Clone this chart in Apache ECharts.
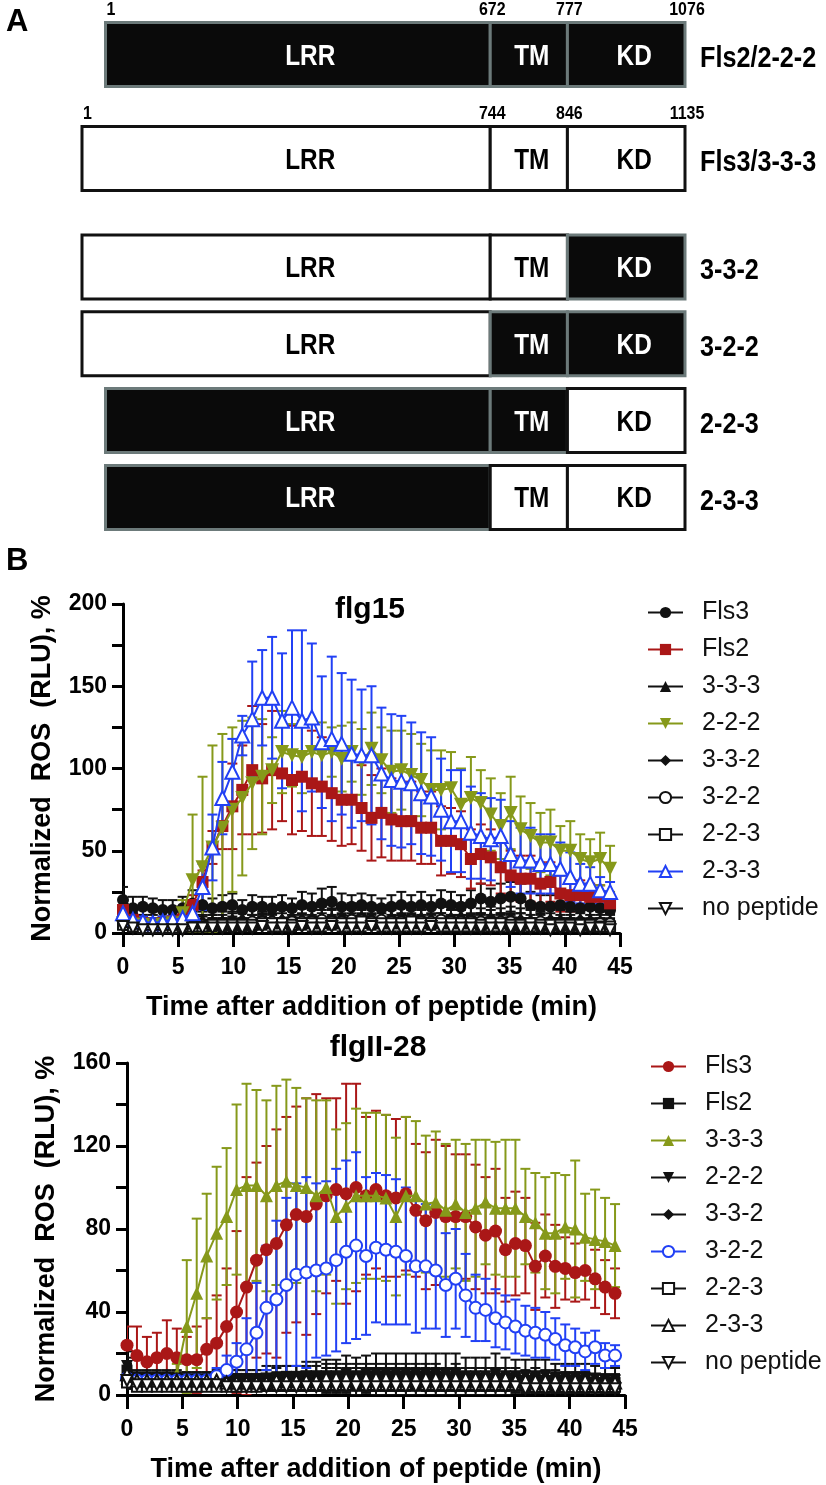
<!DOCTYPE html>
<html><head><meta charset="utf-8">
<script src="https://cdn.jsdelivr.net/npm/echarts@6/dist/echarts.min.js"></script>
<style>html,body{margin:0;padding:0;background:#fff}#c{width:826px;height:1485px}</style>
</head><body><div id="c"></div>
<script>
// ================= Panel A data =================
const topConstructs = ['Fls2/2-2-2', 'Fls3/3-3-3'];
const chimeraConstructs = ['3-3-2', '3-2-2', '2-2-3', '2-3-3'];
const domainNames = ['LRR', 'TM', 'KD'];
// origin of each domain (LRR, TM, KD): 2 = Fls2, 3 = Fls3
const topOrigins = [[2, 2, 2], [3, 3, 3]];
const chimeraOrigins = [[3, 3, 2], [3, 2, 2], [2, 2, 3], [2, 3, 3]];
// schematic domain lengths (diagram units, not to scale)
const lrrLenFls2 = 63.8, lrrLenFls3 = 67.7, tmLen = 12.8, kdLen = 19.5;
const fls2Boundaries = ['1', '672', '777', '1076'];
const fls3Boundaries = ['1', '744', '846', '1135'];

// ================= Panel B data =================
const timeMin = [0,0.9,1.8,2.7,3.6,4.5,5.4,6.3,7.2,8.1,9,9.9,10.8,11.7,12.6,13.5,14.4,15.3,16.2,17.1,18,18.9,19.8,20.7,21.6,22.5,23.4,24.3,25.2,26.1,27,27.9,28.8,29.7,30.6,31.5,32.4,33.3,34.2,35.1,36,36.9,37.8,38.7,39.6,40.5,41.4,42.3,43.2,44.1];
const legendNames = ['Fls3', 'Fls2', '3-3-3', '2-2-2', '3-3-2', '3-2-2', '2-2-3', '2-3-3', 'no peptide'];

// flg15 (mean, SD)
const flg15_Fls3 = [20,15,16,15,14,14,15,18,17,15,16,17,14,16,16,15,16,15,17,16,18,19,16,16,17,16,15,16,17,16,17,16,18,17,16,18,21,19,21,22,21,17,16,16,17,16,15,16,15,14];
const flg15_Fls3_sd = [8,7,6,6,6,6,7,8,7,6,7,7,6,7,6,7,7,6,8,8,9,9,8,7,7,7,6,7,8,7,8,7,8,8,7,8,9,8,9,9,9,8,7,7,8,7,7,7,6,6];
const flg15_Fls2 = [14,8,6,5,6,7,8,17,31,52,65,77,87,99,94,99,97,93,95,91,89,85,81,81,76,70,73,69,68,68,64,64,56,56,54,45,48,46,40,35,33,33,30,31,24,23,23,22,22,18];
const flg15_Fls2_sd = [6,4,3,3,3,3,4,6,7,10,14,26,27,39,33,36,29,33,33,32,30,29,28,27,26,26,27,25,24,24,22,22,21,20,20,18,18,17,16,15,14,14,13,12,11,10,9,8,7,6];
const flg15_333 = [10,8,7,7,6,6,7,8,8,7,8,8,9,9,8,9,9,10,9,10,10,9,10,11,10,10,9,10,11,10,10,9,10,10,11,10,9,10,9,10,9,9,8,9,9,8,8,9,8,8];
const flg15_333_sd = [5,4,4,4,4,4,4,5,5,4,5,5,5,5,5,6,5,6,6,6,6,6,6,7,6,6,6,6,7,6,6,6,6,6,7,6,6,6,6,6,6,5,5,5,5,5,5,5,5,4];
const flg15_222 = [6,5,5,4,5,6,12,32,40,52,64,75,82,91,95,99,110,108,107,110,108,110,106,110,104,112,105,98,99,96,93,87,87,88,78,82,79,72,65,73,63,59,55,55,50,50,45,43,45,39];
const flg15_222_sd = [3,3,3,3,3,4,8,40,55,62,57,50,47,40,35,20,25,19,22,18,20,15,20,18,20,22,20,25,24,25,22,24,24,22,22,25,20,22,20,22,20,20,18,20,15,18,15,14,16,14];
const flg15_332 = [8,6,5,5,5,5,6,6,7,7,7,8,8,7,8,8,8,9,8,9,9,9,8,9,9,8,9,9,8,9,9,8,8,9,9,8,8,9,8,8,8,7,8,8,7,7,8,7,7,7];
const flg15_332_sd = [4,3,3,3,3,3,3,3,4,4,4,4,4,4,4,4,4,5,4,5,5,5,4,5,5,4,5,5,4,5,5,4,4,5,5,4,4,5,4,4,4,4,4,4,4,4,4,4,4,4];
const flg15_322 = [6,5,4,4,4,4,5,5,5,6,6,6,6,7,7,7,6,7,7,7,8,7,7,8,8,7,8,7,7,8,7,7,8,7,7,7,7,6,7,7,6,6,7,6,6,6,6,5,6,6];
const flg15_322_sd = [3,3,3,3,3,3,3,3,3,3,3,3,3,4,4,4,3,4,4,4,4,4,4,4,4,4,4,4,4,4,4,4,4,4,4,4,4,3,4,4,3,3,4,3,3,3,3,3,3,3];
const flg15_223 = [5,4,3,3,3,3,4,4,4,5,5,5,5,5,6,6,6,5,6,6,6,6,6,6,7,6,6,6,6,7,6,6,6,6,6,6,5,6,6,5,5,6,5,5,5,5,5,5,4,4];
const flg15_223_sd = [3,2,2,2,2,2,2,2,2,3,3,3,3,3,3,3,3,3,3,3,3,3,3,3,4,3,3,3,3,4,3,3,3,3,3,3,3,3,3,3,3,3,3,3,3,3,3,3,2,2];
const flg15_233 = [12,8,7,6,7,8,9,12,28,52,82,98,120,130,143,143,129,137,129,131,116,118,115,109,108,108,97,93,92,91,85,83,75,68,68,61,59,57,59,48,44,44,42,42,39,34,30,30,26,25];
const flg15_233_sd = [4,3,3,3,3,3,4,5,14,20,22,20,12,35,29,37,41,47,55,45,40,50,43,45,40,42,40,40,40,37,37,36,31,31,31,28,26,25,22,20,20,20,18,18,16,15,12,10,8,6];
const flg15_nopep = [4,3,2,2,2,2,2,3,3,3,3,3,3,3,4,3,3,3,4,3,3,4,3,3,3,4,3,3,3,3,3,4,3,3,3,3,3,3,3,3,3,3,3,2,3,3,2,3,3,2];
const flg15_nopep_sd = [2,2,1,1,1,1,1,2,2,2,2,2,2,2,2,2,2,2,2,2,2,2,2,2,2,2,2,2,2,2,2,2,2,2,2,2,2,2,2,2,2,2,2,1,2,2,1,2,2,1];

// flgII-28 (mean, SD)
const flgII_Fls3 = [24,19,16,18,20,18,17,17,22,25,33,40,52,65,70,73,82,87,86,92,96,99,97,100,96,99,96,95,97,89,84,88,86,86,86,81,77,79,70,73,72,62,67,62,61,59,60,56,52,49];
const flgII_Fls3_sd = [9,14,12,12,16,14,11,16,15,23,28,39,53,47,50,55,52,52,57,53,47,44,53,50,38,38,39,38,37,32,33,35,34,30,30,30,28,30,25,25,23,21,20,20,15,14,14,14,13,12];
const flgII_Fls2 = [12,7,7,7,7,7,7,7,7,8,8,8,8,8,8,8,9,9,9,9,9,9,9,9,9,9,9,9,9,9,9,9,8,9,8,8,8,8,8,8,7,8,7,7,7,7,7,6,6,6];
const flgII_Fls2_sd = [6,4,4,4,4,4,4,4,4,4,4,4,4,4,4,5,5,5,5,5,6,6,6,6,6,6,6,6,6,6,6,6,5,6,5,5,5,5,5,5,5,5,5,5,4,4,4,4,4,4];
const flgII_333 = [8,7,7,7,7,10,33,49,67,78,86,99,101,101,96,101,103,101,100,96,100,86,91,96,96,96,95,86,96,96,92,93,89,92,88,90,93,90,90,90,86,83,78,78,81,80,76,75,74,72];
const flgII_333_sd = [3,3,3,3,3,5,32,36,30,32,33,41,49,46,46,48,49,47,43,46,42,42,40,42,40,40,40,38,38,36,33,34,32,31,33,33,30,32,33,33,23,24,27,29,25,33,21,24,21,20];
const flgII_222 = [14,8,8,8,8,8,7,7,7,7,7,7,7,7,8,8,8,8,9,9,9,9,10,9,10,10,10,10,10,10,10,10,10,10,9,9,9,10,9,9,9,9,9,8,8,8,8,8,7,7];
const flgII_222_sd = [7,4,4,4,4,4,4,4,4,4,4,5,5,5,6,6,6,6,7,7,8,8,9,9,9,10,10,10,10,10,10,10,10,10,9,9,9,10,9,8,8,8,8,7,7,7,7,6,6,6];
const flgII_332 = [9,6,6,6,6,6,6,6,6,6,6,6,6,6,6,6,6,6,6,7,7,7,7,7,7,7,7,7,7,7,7,7,7,7,7,7,6,7,6,6,6,6,6,6,6,6,5,5,5,5];
const flgII_332_sd = [5,3,3,3,3,3,3,3,3,3,3,3,3,3,3,3,3,3,3,4,4,4,4,4,4,4,4,4,4,4,4,4,4,4,4,4,3,4,3,3,3,3,3,3,3,3,3,3,3,3];
const flgII_322 = [8,7,7,7,7,7,7,7,7,9,12,16,22,30,42,46,53,58,59,60,61,65,69,72,67,71,70,69,67,62,62,60,53,56,48,42,41,37,35,33,31,30,29,27,24,23,21,23,19,19];
const flgII_322_sd = [3,3,3,3,3,3,3,3,3,4,7,9,15,24,30,38,42,44,46,42,42,44,44,45,38,36,36,35,33,32,30,28,25,24,20,16,15,14,13,13,12,12,11,10,10,9,9,8,6,5];
const flgII_223 = [6,4,4,4,4,4,4,4,4,4,4,4,4,4,5,5,5,5,5,5,5,5,5,6,5,5,5,5,5,6,5,5,5,5,5,5,5,5,5,5,5,4,4,5,4,4,4,4,4,4];
const flgII_223_sd = [3,2,2,2,2,2,2,2,2,2,2,2,2,2,3,3,3,3,3,3,3,3,3,3,3,3,3,3,3,3,3,3,3,3,3,3,3,3,3,3,3,2,2,3,2,2,2,2,2,2];
const flgII_233 = [10,7,7,7,7,7,7,7,7,7,6,6,6,6,6,7,7,7,7,7,8,8,8,8,8,8,8,8,8,8,8,8,8,8,8,8,8,8,8,7,7,7,7,7,7,7,7,6,6,6];
const flgII_233_sd = [5,3,3,3,3,3,3,3,3,3,3,3,3,3,3,4,4,4,4,4,5,5,5,5,5,5,5,5,5,5,5,5,5,5,5,5,5,5,5,4,4,4,4,4,4,4,4,4,4,4];
const flgII_nopep = [7,5,5,5,5,5,5,5,5,5,4,4,4,4,4,4,4,4,4,4,4,4,4,4,4,4,4,4,4,4,4,4,4,4,4,4,4,4,4,4,3,3,3,3,3,3,3,3,3,3];
const flgII_nopep_sd = [4,2,2,2,2,2,2,2,2,2,2,2,2,2,2,2,2,2,2,2,2,2,2,2,2,2,2,2,2,2,2,2,2,2,2,2,2,2,2,2,2,2,2,2,2,2,2,2,2,2];

// ================= styling =================
const BLACK = '#111111', RED = '#aa1717', GREEN = '#86991a', BLUE = '#2140f5';
const SANS = '"Liberation Sans", Arial, Helvetica, sans-serif';
const NARROW_SCALE = 0.84;

const flg15Defs = [
  {v: flg15_Fls3, sd: flg15_Fls3_sd, color: BLACK, symbol: 'circle', size: 12},
  {v: flg15_Fls2, sd: flg15_Fls2_sd, color: RED, symbol: 'rect', size: 12},
  {v: flg15_333, sd: flg15_333_sd, color: BLACK, symbol: 'triangle', size: 12},
  {v: flg15_222, sd: flg15_222_sd, color: GREEN, symbol: 'triangle', rot: 180, size: 14},
  {v: flg15_332, sd: flg15_332_sd, color: BLACK, symbol: 'diamond', size: 12},
  {v: flg15_322, sd: flg15_322_sd, color: BLACK, symbol: 'emptyCircle', size: 10},
  {v: flg15_223, sd: flg15_223_sd, color: BLACK, symbol: 'emptyRect', size: 10},
  {v: flg15_233, sd: flg15_233_sd, color: BLUE, symbol: 'emptyTriangle', size: 14},
  {v: flg15_nopep, sd: flg15_nopep_sd, color: BLACK, symbol: 'emptyTriangle', rot: 180, size: 11}
];
const flgIIDefs = [
  {v: flgII_Fls3, sd: flgII_Fls3_sd, color: RED, symbol: 'circle', size: 13},
  {v: flgII_Fls2, sd: flgII_Fls2_sd, color: BLACK, symbol: 'rect', size: 11},
  {v: flgII_333, sd: flgII_333_sd, color: GREEN, symbol: 'triangle', size: 13},
  {v: flgII_222, sd: flgII_222_sd, color: BLACK, symbol: 'triangle', rot: 180, size: 12},
  {v: flgII_332, sd: flgII_332_sd, color: BLACK, symbol: 'diamond', size: 12},
  {v: flgII_322, sd: flgII_322_sd, color: BLUE, symbol: 'emptyCircle', size: 12},
  {v: flgII_223, sd: flgII_223_sd, color: BLACK, symbol: 'emptyRect', size: 10},
  {v: flgII_233, sd: flgII_233_sd, color: BLACK, symbol: 'emptyTriangle', size: 12},
  {v: flgII_nopep, sd: flgII_nopep_sd, color: BLACK, symbol: 'emptyTriangle', rot: 180, size: 11}
];

// ================= Panel A builders =================
function buildSegments(origins) {
  const out = [];
  origins.forEach((o, r) => {
    const lens = [o[0] === 2 ? lrrLenFls2 : lrrLenFls3, tmLen, kdLen];
    let s = 100 - lens.reduce((a, b) => a + b, 0);
    lens.forEach((L, d) => { out.push([s, s + L, r, d, o[d]]); s += L; });
  });
  return out;
}
function buildBoundaryLabels(origins, labelSets) {
  const out = [];
  origins.forEach((o, r) => {
    const lens = [o[0] === 2 ? lrrLenFls2 : lrrLenFls3, tmLen, kdLen];
    let s = 100 - lens.reduce((a, b) => a + b, 0);
    const xs = [s, s + lens[0], s + lens[0] + lens[1], 100];
    xs.forEach((x, k) => out.push([x, r, k, labelSets[r][k]]));
  });
  return out;
}
const BAR_H = 64;
function narrowText(txt, x, y, size, fill, align) {
  return {type: 'text', x: x, y: y, scaleX: NARROW_SCALE, scaleY: 1,
    style: {text: txt, fill: fill, fontSize: size, fontWeight: 'bold', fontFamily: SANS,
      align: align, textAlign: align, verticalAlign: 'middle', textVerticalAlign: 'middle'}};
}
function domainRenderer(constructNames) {
  return function (params, api) {
    const s = api.value(0), e = api.value(1), r = api.value(2), d = api.value(3), o = api.value(4);
    const p0 = api.coord([s, r]), p1 = api.coord([e, r]);
    const black = o === 2;
    let tx = (p0[0] + p1[0]) / 2;
    if (d === 0) tx = p1[0] - 180; else if (d === 1) tx += 3; else tx += 8;
    const children = [
      {type: 'rect', shape: {x: p0[0], y: p0[1] - BAR_H / 2, width: p1[0] - p0[0], height: BAR_H},
        style: {fill: black ? '#0a0a0a' : '#ffffff', stroke: black ? '#6c7a7a' : '#111111', lineWidth: 3}},
      narrowText(domainNames[d], tx, p0[1] + 2, 29, black ? '#ffffff' : '#000000', 'center')
    ];
    if (d === 2) children.push(narrowText(constructNames[r], p1[0] + 15, p0[1] + 4, 30, '#000000', 'left'));
    return {type: 'group', children: children};
  };
}
const boundaryData = buildBoundaryLabels(topOrigins, [fls2Boundaries, fls3Boundaries]);
function renderBoundary(params, api) {
  const x = api.value(0), r = api.value(1), k = api.value(2);
  const p = api.coord([x, r]);
  const txt = boundaryData[params.dataIndex][3];
  let px = p[0] + 2, al = 'center';
  if (k === 0) { px = p[0] + 1; al = 'left'; }
  return {type: 'text', x: px, y: p[1] - BAR_H / 2 - 13, scaleX: NARROW_SCALE,
    style: {text: txt, fill: '#000', fontSize: 19, fontWeight: 'bold', fontFamily: SANS,
      align: al, textAlign: al, verticalAlign: 'middle', textVerticalAlign: 'middle'}};
}

// ================= Panel B builders =================
function errRenderer(color) {
  return function (params, api) {
    const x = api.value(0), lo = api.value(1), hi = api.value(2);
    const a = api.coord([x, hi]), b = api.coord([x, lo]);
    const w = 5;
    const st = {stroke: color, lineWidth: 2};
    return {type: 'group', children: [
      {type: 'line', shape: {x1: a[0], y1: a[1], x2: b[0], y2: b[1]}, style: st},
      {type: 'line', shape: {x1: a[0] - w, y1: a[1], x2: a[0] + w, y2: a[1]}, style: st},
      {type: 'line', shape: {x1: b[0] - w, y1: b[1], x2: b[0] + w, y2: b[1]}, style: st}
    ]};
  };
}
function panelSeries(tag, axisIdx, defs) {
  const lines = [], errs = [];
  defs.forEach((d, k) => {
    const name = legendNames[k] + '|' + tag;
    const empty = d.symbol.indexOf('empty') === 0;
    lines.push({
      type: 'line', name: name, xAxisIndex: axisIdx, yAxisIndex: axisIdx,
      data: timeMin.map((t, i) => [t, d.v[i]]),
      symbol: d.symbol, symbolSize: d.size, symbolRotate: d.rot || 0,
      showAllSymbol: true,
      lineStyle: {color: d.color, width: 2},
      itemStyle: {color: d.color, borderColor: d.color, borderWidth: empty ? 2.5 : 0},
      emphasis: {disabled: true},
      z: 3 + k
    });
    errs.push({
      type: 'custom', name: name, xAxisIndex: axisIdx, yAxisIndex: axisIdx,
      data: timeMin.map((t, i) => [t, Math.max(0, d.v[i] - d.sd[i]), d.v[i] + d.sd[i]]),
      encode: {x: 0, y: [1, 2]},
      renderItem: errRenderer(d.color),
      itemStyle: {color: d.color},
      clip: true, silent: true,
      z: 2
    });
  });
  return lines.concat(errs);
}

function valueXAxis(gridIndex) {
  return {
    type: 'value', gridIndex: gridIndex, min: 0, max: 45, interval: 5,
    axisLine: {show: true, onZero: false, lineStyle: {color: '#000', width: 3}},
    axisTick: {show: true, length: 14, lineStyle: {color: '#000', width: 3}},
    axisLabel: {color: '#000', fontSize: 23, fontWeight: 'bold', fontFamily: SANS, margin: 23},
    splitLine: {show: false},
    name: 'Time after addition of peptide (min)', nameLocation: 'middle', nameGap: 61,
    nameTextStyle: {color: '#000', fontSize: 27, fontWeight: 'bold', fontFamily: SANS}
  };
}
function valueYAxis(gridIndex, max, interval, labelStep) {
  return {
    type: 'value', gridIndex: gridIndex, min: 0, max: max, interval: interval,
    axisLine: {show: true, onZero: false, lineStyle: {color: '#000', width: 3}},
    axisTick: {show: true, length: 11, lineStyle: {color: '#000', width: 3}},
    axisLabel: {color: '#000', fontSize: 23, fontWeight: 'bold', fontFamily: SANS, margin: 16,
      formatter: v => (v % labelStep === 0 ? String(v) : '')},
    splitLine: {show: false},
    name: 'Normalized  ROS  (RLU), %', nameLocation: 'middle', nameGap: 67,
    nameTextStyle: {color: '#000', fontSize: 27, fontWeight: 'bold', fontFamily: SANS}
  };
}
function legendFor(tag, left, top) {
  return {
    orient: 'vertical', left: left, top: top, itemWidth: 35, itemHeight: 14, itemGap: 12,
    data: legendNames.map(n => n + '|' + tag),
    formatter: n => n.split('|')[0],
    textStyle: {color: '#111', fontSize: 25, lineHeight: 24, fontFamily: SANS, padding: [0, 0, 0, 14]},
    selectedMode: false
  };
}
function centeredTitle(txt, x, y) {
  return {type: 'text', x: x, y: y, style: {text: txt, fontSize: 30, fontWeight: 'bold', fontFamily: SANS, fill: '#000',
    align: 'center', textAlign: 'center', verticalAlign: 'middle', textVerticalAlign: 'middle'}};
}

const chart = echarts.init(document.getElementById('c'), null, {renderer: 'canvas', width: 826, height: 1485});
const option = {
  animation: false,
  backgroundColor: '#ffffff',
  textStyle: {fontFamily: SANS},
  grid: [
    {left: 82, right: 141, top: 2.5, height: 208},
    {left: 82, right: 141, top: 228.6, height: 307.2},
    {left: 123, right: 206, top: 604, height: 329},
    {left: 127, right: 201, top: 1063, height: 332}
  ],
  xAxis: [
    {type: 'value', gridIndex: 0, min: 0, max: 100, show: false},
    {type: 'value', gridIndex: 1, min: 0, max: 100, show: false},
    valueXAxis(2),
    valueXAxis(3)
  ],
  yAxis: [
    {type: 'category', gridIndex: 0, data: topConstructs, inverse: true, show: false},
    {type: 'category', gridIndex: 1, data: chimeraConstructs, inverse: true, show: false},
    valueYAxis(2, 200, 25, 50),
    valueYAxis(3, 160, 20, 40)
  ],
  legend: [legendFor('flg15', 642, 595), legendFor('flgII-28', 645, 1049)],
  graphic: [
    {type: 'text', x: 6, y: 7, style: {text: 'A', fontSize: 31, fontWeight: 'bold', fontFamily: SANS, fill: '#000'}},
    {type: 'text', x: 6, y: 546, style: {text: 'B', fontSize: 31, fontWeight: 'bold', fontFamily: SANS, fill: '#000'}},
    centeredTitle('flg15', 370, 610),
    centeredTitle('flgII-28', 378, 1048)
  ],
  series: [
    {type: 'custom', name: 'domainsTop', xAxisIndex: 0, yAxisIndex: 0, data: buildSegments(topOrigins),
      renderItem: domainRenderer(topConstructs), encode: {x: [0, 1], y: 2}, silent: true},
    {type: 'custom', name: 'boundaries', xAxisIndex: 0, yAxisIndex: 0, data: boundaryData.map(d => d.slice(0, 3)),
      renderItem: renderBoundary, encode: {x: 0, y: 1}, silent: true},
    {type: 'custom', name: 'domainsChimera', xAxisIndex: 1, yAxisIndex: 1, data: buildSegments(chimeraOrigins),
      renderItem: domainRenderer(chimeraConstructs), encode: {x: [0, 1], y: 2}, silent: true}
  ].concat(panelSeries('flg15', 2, flg15Defs), panelSeries('flgII-28', 3, flgIIDefs))
};
chart.setOption(option);
</script>
</body></html>
